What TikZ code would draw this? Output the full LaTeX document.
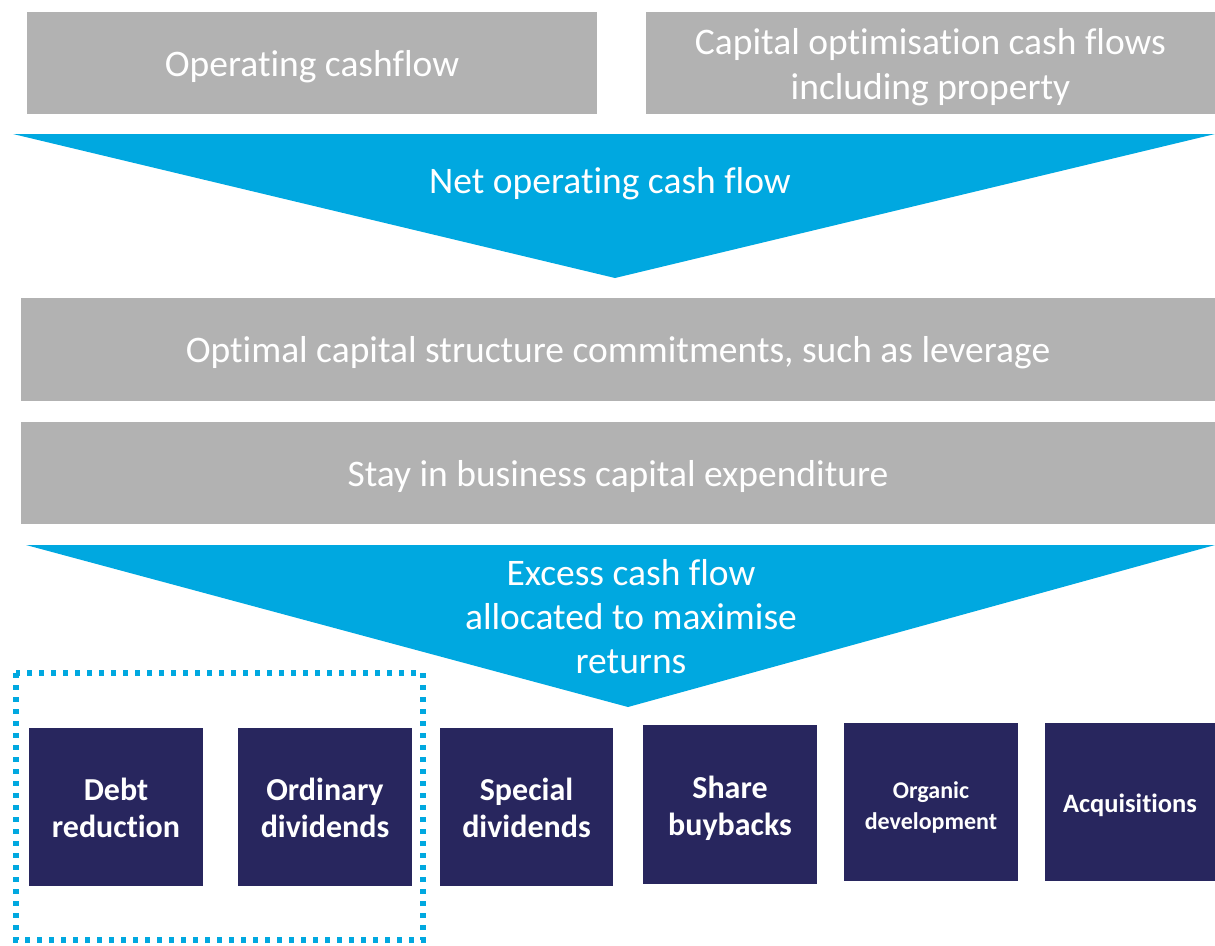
\documentclass[tikz,border=0pt]{standalone}
\usepackage{fontspec}
\setmainfont{Carlito}[Ligatures={NoCommon}]
\definecolor{boxgray}{HTML}{B2B2B2}
\definecolor{flowblue}{HTML}{00A8E0}
\definecolor{navy}{HTML}{28265E}
\begin{document}
\begin{tikzpicture}[x=1pt,y=-1pt,
  graybox/.style={fill=boxgray,draw=none,inner sep=0pt},
  graytext/.style={text=white,font=\fontsize{37.5}{45}\selectfont,align=center,inner sep=0pt},
  navybox/.style={fill=navy,draw=none,inner sep=0pt},
  navytext/.style={text=white,font=\bfseries\fontsize{32}{37}\selectfont,align=center,inner sep=0pt},
  flowtext/.style={text=white,font=\fontsize{37.5}{44}\selectfont,align=center,inner sep=0pt},
  dotbox/.style={draw=flowblue,line width=5.5pt,dash pattern=on 5pt off 7pt}]
\useasboundingbox (0,0) rectangle (1215,945);
% top boxes
\node[graybox,minimum width=570pt,minimum height=102pt,
  label={[graytext,yshift=-4pt]center:{Operating cashflow}}] (opcash) at (312,63) {};
\node[graybox,minimum width=569pt,minimum height=102pt,
  label={[graytext,yshift=-4pt]center:{Capital optimisation cash flows\\including property}}] (capopt) at (930.5,63) {};
% first funnel
\coordinate (t1l) at (13,134);
\coordinate (t1r) at (1215,134);
\coordinate (t1a) at (615,278);
\fill[flowblue] (t1l) -- (t1r) -- (t1a) -- cycle;
\node[flowtext] (netop) at (610,184) {Net operating cash flow};
% middle boxes
\node[graybox,minimum width=1194pt,minimum height=103pt,
  label={[graytext,yshift=-3pt]center:{Optimal capital structure commitments, such as leverage}}] (optcap) at (618,349.5) {};
\node[graybox,minimum width=1194pt,minimum height=102pt,
  label={[graytext,yshift=-3.5pt]center:{Stay in business capital expenditure}}] (stay) at (618,473) {};
% second funnel
\coordinate (t2l) at (26,545);
\coordinate (t2r) at (1215,545);
\coordinate (t2a) at (628,707);
\fill[flowblue] (t2l) -- (t2r) -- (t2a) -- cycle;
\node[flowtext] (excess) at (631,617) {Excess cash flow\\allocated to maximise\\returns};
% dotted group
\draw[dotbox] (16,673) rectangle (423,940);
% bottom boxes
\node[navybox,minimum width=174pt,minimum height=158pt,
  label={[navytext,yshift=-1pt]center:{Debt\\reduction}}] (debt) at (116,807) {};
\node[navybox,minimum width=174pt,minimum height=158pt,
  label={[navytext,yshift=-1pt]center:{Ordinary\\dividends}}] (ordinary) at (325,807) {};
\node[navybox,minimum width=173pt,minimum height=158pt,
  label={[navytext,yshift=-1pt]center:{Special\\dividends}}] (special) at (526.5,807) {};
\node[navybox,minimum width=174pt,minimum height=159pt,
  label={[navytext,yshift=-4pt]center:{Share\\buybacks}}] (share) at (730,804.5) {};
\node[navybox,minimum width=174pt,minimum height=158pt,
  label={[navytext,font=\bfseries\fontsize{24}{31}\selectfont,yshift=-5pt]center:{Organic\\development}}] (organic) at (931,802) {};
\node[navybox,minimum width=170pt,minimum height=158pt,
  label={[navytext,font=\bfseries\fontsize{26.5}{30}\selectfont,yshift=-3pt]center:{Acquisitions}}] (acq) at (1130,802) {};
\end{tikzpicture}
\end{document}
